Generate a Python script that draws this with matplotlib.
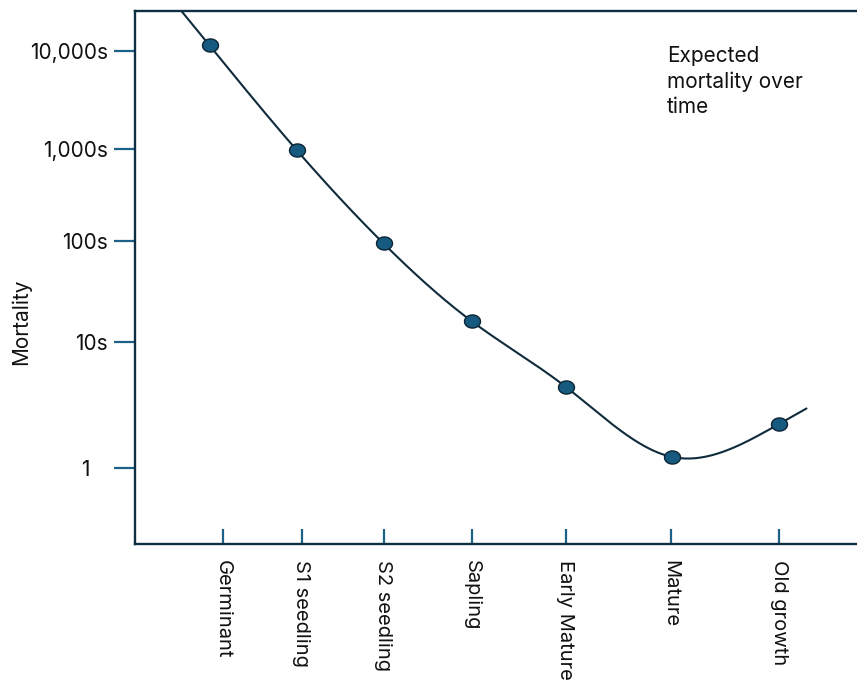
import numpy as np
import matplotlib
matplotlib.use("Agg")
import matplotlib.pyplot as plt
from matplotlib.path import Path

# ---- data -------------------------------------------------------------
stages = ["Germinant", "S1 seedling", "S2 seedling", "Sapling",
          "Early Mature", "Mature", "Old growth"]
stage_ticks = [88, 167, 249, 337, 431, 536, 644]       # axis tick for each stage
sample_time = [75, 162, 249, 337, 431, 537, 644]        # where each estimate sits
mortality = [11400, 970, 94, 16, 4.4, 1.22, 2.21]        # expected deaths

mortality_levels = [1, 10, 100, 1000, 10000]
mortality_labels = ["1   ", "10s", "100s", "1,000s", "10,000s"]

# ---- a hand-spaced logarithmic axis -------------------------------------
decade_logs = np.array([0.0, 1.0, 2.0, 3.0, 4.0])
decade_rows = np.array([75.8, 201.8, 302.8, 394.8, 492.5])


def _interp_ext(v, xp, fp):
    v = np.asarray(v, dtype=float)
    out = np.interp(v, xp, fp)
    lo_slope = (fp[1] - fp[0]) / (xp[1] - xp[0])
    hi_slope = (fp[-1] - fp[-2]) / (xp[-1] - xp[-2])
    out = np.where(v < xp[0], fp[0] + (v - xp[0]) * lo_slope, out)
    out = np.where(v > xp[-1], fp[-1] + (v - xp[-1]) * hi_slope, out)
    return out


def forward(y):
    with np.errstate(divide="ignore", invalid="ignore"):
        lg = np.log10(np.where(np.asarray(y) > 0, y, np.nan))
    return _interp_ext(lg, decade_logs, decade_rows)


def inverse(r):
    return 10 ** _interp_ext(r, decade_rows, decade_logs)


def natural_spline(x, y, xs):
    x = np.asarray(x, float)
    y = np.asarray(y, float)
    n = len(x)
    h = np.diff(x)
    A = np.zeros((n, n))
    b = np.zeros(n)
    A[0, 0] = A[-1, -1] = 1
    for i in range(1, n - 1):
        A[i, i - 1] = h[i - 1]
        A[i, i] = 2 * (h[i - 1] + h[i])
        A[i, i + 1] = h[i]
        b[i] = 6 * ((y[i + 1] - y[i]) / h[i] - (y[i] - y[i - 1]) / h[i - 1])
    M = np.linalg.solve(A, b)
    out = np.empty_like(xs, dtype=float)
    for k, t in enumerate(xs):
        if t < x[0]:
            d = (y[1] - y[0]) / h[0] - h[0] * (2 * M[0] + M[1]) / 6
            out[k] = y[0] + d * (t - x[0])
            continue
        if t > x[-1]:
            d = (y[-1] - y[-2]) / h[-1] + h[-1] * (M[-2] + 2 * M[-1]) / 6
            out[k] = y[-1] + d * (t - x[-1])
            continue
        i = int(np.clip(np.searchsorted(x, t) - 1, 0, n - 2))
        a, c, hi = x[i], x[i + 1], h[i]
        out[k] = (M[i] * (c - t) ** 3 / (6 * hi) + M[i + 1] * (t - a) ** 3 / (6 * hi)
                  + (y[i] / hi - M[i] * hi / 6) * (c - t)
                  + (y[i + 1] / hi - M[i + 1] * hi / 6) * (t - a))
    return out


# ---- figure -----------------------------------------------------------
plt.rcParams["font.family"] = ["Inter", "DejaVu Sans"]

W, H = 857, 681
fig = plt.figure(figsize=(W / 100, H / 100), dpi=100)
ax = fig.add_axes([134.5 / W, (H - 543.5) / H, (W - 134.5) / W, 533 / H])

ax.set_yscale("function", functions=(forward, inverse))
ax.set_xlim(0, W - 134.5)
ax.set_ylim(inverse(0.0), inverse(533.0))

axis_col = "#0e2e42"
tick_col = "#1b6188"
line_col = "#0f2b3c"
dot_fill = "#175a80"
dot_edge = "#0b2535"

for side in ("left", "bottom", "top"):
    ax.spines[side].set_color(axis_col)
    ax.spines[side].set_linewidth(1.7)
ax.spines["right"].set_visible(False)

# smooth curve through the estimates, drawn in screen-row space
xs = np.linspace(20, 672, 600)
rows = natural_spline(sample_time, forward(mortality), xs)
ax.plot(xs, inverse(rows), color=line_col, lw=1.5, solid_capstyle="round", zorder=2)

# slightly flattened dots
theta = np.linspace(0, 2 * np.pi, 60)
ellipse = Path(np.column_stack([np.cos(theta), 0.82 * np.sin(theta)]), closed=True)
ax.plot(sample_time, mortality, linestyle="none", marker=ellipse, markersize=11.5,
        markerfacecolor=dot_fill, markeredgecolor=dot_edge, markeredgewidth=1.0,
        zorder=3)

ax.set_yticks(mortality_levels)
ax.set_yticklabels(mortality_labels)
ax.yaxis.set_minor_locator(matplotlib.ticker.NullLocator())
ax.tick_params(axis="y", direction="out", length=15, width=1.6, color=tick_col,
               pad=4, labelsize=15, labelcolor="#111111")

ax.set_xticks(stage_ticks)
ax.set_xticklabels(stages, rotation=270, va="top", ha="center")
ax.tick_params(axis="x", direction="in", length=11, width=1.6, color=tick_col,
               pad=12, labelsize=14.5, labelcolor="#111111")

ax.set_ylabel("Mortality", fontsize=15, color="#111111")
ax.yaxis.set_label_coords(-(134.5 - 31) / (W - 134.5), (543.5 - 322) / 533)

ax.text(532.5, inverse(497.0), "Expected\nmortality over\ntime", fontsize=15,
        color="#111111", va="top", ha="left", linespacing=1.3)

fig.savefig("out.png", dpi=100, facecolor="white")
